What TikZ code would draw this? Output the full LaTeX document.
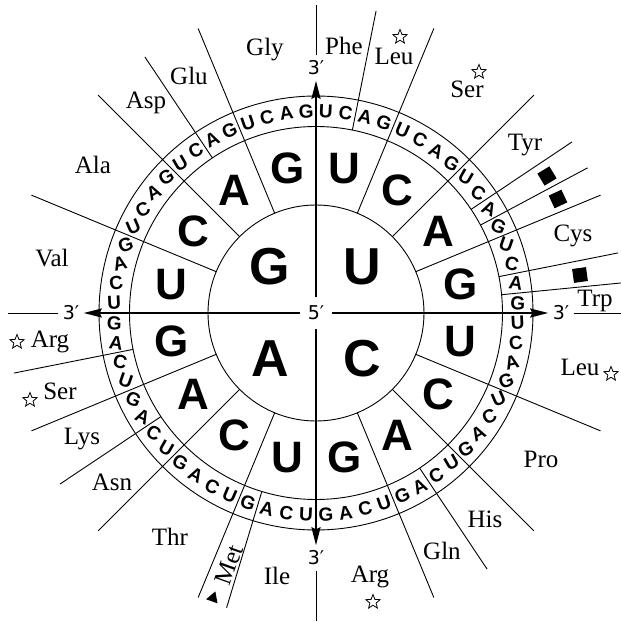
\documentclass[tikz,border=0pt]{standalone}
\usepackage{fontspec}
\setmainfont{Liberation Serif}
\setsansfont{Liberation Sans}
\newfontfamily\primefont{DejaVu Sans}
\usetikzlibrary{arrows.meta,shapes.geometric}

\begin{document}
\begin{tikzpicture}[x=1pt,y=1pt]
  \tikzstyle{aminoStyle}=[font=\fontsize{25}{25}\selectfont, inner sep=0pt]
  \tikzstyle{primeStyle}=[font=\primefont\fontsize{19}{19}\selectfont, circle, minimum size=25pt, inner sep=0pt]
  \tikzstyle{centerStyle}=[font=\primefont\fontsize{19}{19}\selectfont, circle, minimum size=32pt, inner sep=0pt]
  \tikzstyle{firstStyle}=[font=\sffamily\bfseries\fontsize{52}{52}\selectfont, inner sep=0pt]
  \tikzstyle{secondStyle}=[font=\sffamily\bfseries\fontsize{44}{44}\selectfont, inner sep=0pt]
  \tikzstyle{thirdStyle}=[font=\sffamily\bfseries\fontsize{19}{19}\selectfont, inner sep=0pt]
  \tikzstyle{starStyle}=[star, star points=5, star point ratio=2.3, draw, line width=0.8pt, minimum size=15pt, inner sep=0pt]
  \tikzstyle{stopStyle}=[fill=black, minimum size=14pt, inner sep=0pt]
  \tikzstyle{thinLine}=[line width=0.9pt]
  \tikzstyle{axisArrow}=[line width=2pt, -{Stealth[length=18pt,width=9pt,inset=2pt]}]

  \useasboundingbox (-316,-309) rectangle (305,313);

  % rings
  \draw[thinLine] (0,0) circle (108pt) (0,0) circle (186.5pt) (0,0) circle (217pt);

  % borders starting at the inner ring
  \foreach \p [count=\i] in {22.5,45,67.5,112.5,135,157.5,202.5,225,247.5,292.5,315,337.5} {
    \coordinate (innerFrom\i) at ({90-\p}:108pt);
    \coordinate (innerTo\i) at ({90-\p}:308pt);
    \draw[thinLine] (innerFrom\i) -- (innerTo\i);
  }
  % borders starting at the middle ring
  \foreach \p [count=\i] in {11.25,56.25,61.875,78.75,84.375,146.25,196.875,236.25,258.75,326.25} {
    \coordinate (middleFrom\i) at ({90-\p}:186.5pt);
    \coordinate (middleTo\i) at ({90-\p}:308pt);
    \draw[thinLine] (middleFrom\i) -- (middleTo\i);
  }

  % bases
  \foreach \l [count=\i from 0] in {U,C,A,G}
    \node[firstStyle] (first\i) at ({45-90*\i}:65pt) {\l};
  \foreach \q in {0,...,3}
    \foreach \l [count=\i from 0] in {U,C,A,G} {
      \pgfmathsetmacro{\ang}{90-(4*\q+\i+0.5)*22.5}
      \node[secondStyle] (second\q-\i) at (\ang:147pt) {\l};
    }
  \foreach \q in {0,...,15}
    \foreach \l [count=\i from 0] in {U,C,A,G} {
      \pgfmathsetmacro{\ang}{90-(4*\q+\i+0.5)*5.625}
      \pgfmathsetmacro{\tilt}{-30*sin(2*\ang)}
      \node[thirdStyle, rotate=\tilt] (third\q-\i) at (\ang:202pt) {\l};
    }

  % axes
  \node[centerStyle](fivePrime) at (0,0) {5′};
  \node[primeStyle](threeTop) at (90:245pt) {3′};
  \node[primeStyle](threeRight) at (0:245pt) {3′};
  \node[primeStyle](threeBottom) at (-90:245pt) {3′};
  \node[primeStyle](threeLeft) at (180:245pt) {3′};
  \coordinate (endTop) at (90:308pt);
  \coordinate (endRight) at (0:308pt);
  \coordinate (endBottom) at (-90:308pt);
  \coordinate (endLeft) at (180:308pt);
  \draw[axisArrow] (fivePrime) -- (threeTop);
  \draw[axisArrow] (fivePrime) -- (threeRight);
  \draw[axisArrow] (fivePrime) -- (threeBottom);
  \draw[axisArrow] (fivePrime) -- (threeLeft);
  \draw[thinLine] (threeTop) -- (endTop);
  \draw[thinLine] (threeRight) -- (endRight);
  \draw[thinLine] (threeBottom) -- (endBottom);
  \draw[thinLine] (threeLeft) -- (endLeft);

  % amino acids
  \node[aminoStyle](phe) at (28,267) {Phe};
  \node[aminoStyle](leuTop) at (78,257) {Leu};
  \node[starStyle](leuTopStar) at (84,276) {};
  \node[aminoStyle](serTop) at (151,224) {Ser};
  \node[starStyle](serTopStar) at (163,241) {};
  \node[aminoStyle](tyr) at (209,168) {Tyr};
  \node[stopStyle, rotate=31](stopOchre) at (231,137) {};
  \node[stopStyle, rotate=25](stopAmber) at (242,114) {};
  \node[aminoStyle](cys) at (257,77) {Cys};
  \node[stopStyle, rotate=8](stopOpal) at (264,38) {};
  \node[aminoStyle](trp) at (279,12) {Trp};
  \node[aminoStyle](leuRight) at (264,-54) {Leu};
  \node[starStyle](leuRightStar) at (295,-61) {};
  \node[aminoStyle](pro) at (225,-146) {Pro};
  \node[aminoStyle](his) at (169,-206) {His};
  \node[aminoStyle](gln) at (126,-238) {Gln};
  \node[aminoStyle](argBottom) at (54,-264) {Arg};
  \node[starStyle](argBottomStar) at (57,-289) {};
  \node[aminoStyle](ile) at (-39,-263) {Ile};
  \node[aminoStyle, rotate=70.3](met) at (-87,-252) {Met};
  \node[regular polygon, regular polygon sides=3, fill=black, minimum size=14pt, inner sep=0pt, rotate=-19.7](metStart) at (-103,-285) {};
  \node[aminoStyle](thr) at (-146,-224) {Thr};
  \node[aminoStyle](asn) at (-204,-169) {Asn};
  \node[aminoStyle](lys) at (-234,-126) {Lys};
  \node[aminoStyle](serLeft) at (-256,-78) {Ser};
  \node[starStyle](serLeftStar) at (-286,-87) {};
  \node[aminoStyle](argLeft) at (-266,-29) {Arg};
  \node[starStyle](argLeftStar) at (-299,-29) {};
  \node[aminoStyle](val) at (-264,55) {Val};
  \node[aminoStyle](ala) at (-223,148) {Ala};
  \node[aminoStyle](asp) at (-170,210) {Asp};
  \node[aminoStyle](glu) at (-127,237) {Glu};
  \node[aminoStyle](gly) at (-51,263) {Gly};
\end{tikzpicture}
\end{document}
